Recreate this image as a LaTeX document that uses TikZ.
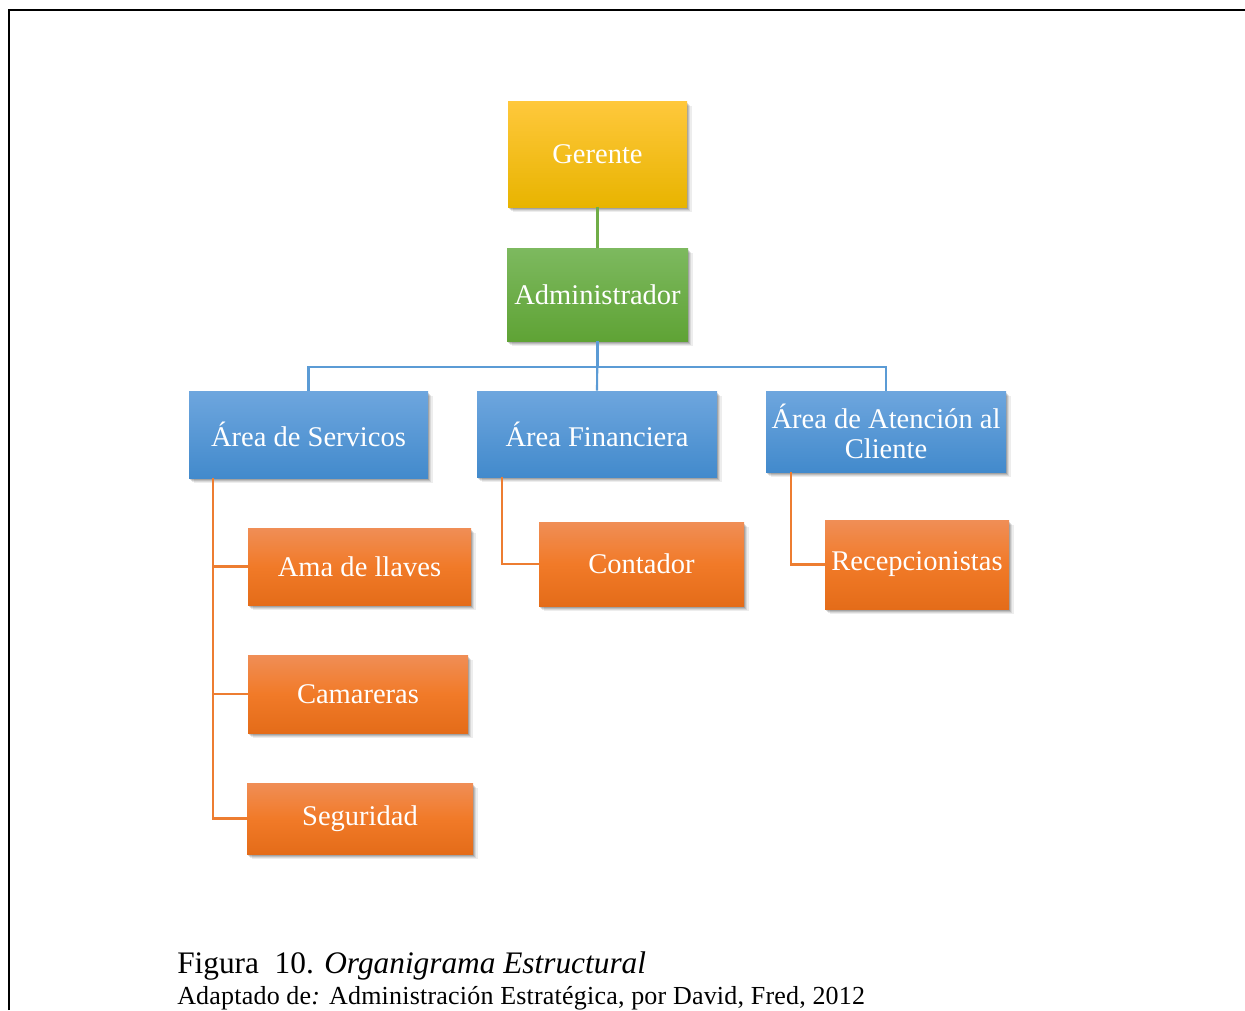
\documentclass[tikz,border=0pt]{standalone}
\usepackage{fontspec}
\setmainfont{Liberation Serif}
\usetikzlibrary{shadows}
\definecolor{goldT}{RGB}{255,200,60}
\definecolor{goldB}{RGB}{232,180,0}
\definecolor{greenT}{RGB}{125,185,95}
\definecolor{greenB}{RGB}{95,163,53}
\definecolor{blueT}{RGB}{110,166,222}
\definecolor{blueB}{RGB}{66,138,204}
\definecolor{oranT}{RGB}{240,142,86}
\definecolor{oranM}{RGB}{241,122,40}
\definecolor{oranB}{RGB}{228,108,25}
\definecolor{lnGreen}{RGB}{112,173,71}
\definecolor{lnBlue}{RGB}{91,155,213}
\definecolor{lnOrange}{RGB}{237,125,49}
\tikzset{
  box/.style={draw=none, text=white, inner sep=0pt, align=center,
    font=\fontsize{21.4}{23}\selectfont,
    drop shadow={shadow xshift=3.4pt, shadow yshift=-3.8pt, opacity=0.07, fill=black},
    drop shadow={shadow xshift=2.6pt, shadow yshift=-3.0pt, opacity=0.09, fill=black},
    drop shadow={shadow xshift=1.8pt, shadow yshift=-2.2pt, opacity=0.12, fill=black},
    drop shadow={shadow xshift=1.0pt, shadow yshift=-1.4pt, opacity=0.15, fill=black}},
  goldbox/.style={box, top color=goldT, bottom color=goldB},
  greenbox/.style={box, top color=greenT, bottom color=greenB},
  bluebox/.style={box, top color=blueT, bottom color=blueB},
  orbox/.style={box, top color=oranT, bottom color=oranB, middle color=oranM},
  sz/.style 2 args={minimum width=#1*0.75pt, minimum height=#2*0.75pt},
  lg/.style={draw=lnGreen, line width=1.6pt},
  lb/.style={draw=lnBlue, line width=1.6pt},
  lo/.style={draw=lnOrange, line width=1.6pt},
}
\begin{document}
\begin{tikzpicture}[x=0.75pt,y=-0.75pt]
\useasboundingbox (0,0) rectangle (1245,1010);
% frame
\draw[line width=1.5pt] (9,1010) -- (9,10) -- (1245,10);

\node[goldbox, sz={179}{106}] (ger) at (597.5,154) {Gerente};
\node[greenbox, sz={181}{93}] (adm) at (597.5,294.5) {Administrador};
\node[bluebox, sz={239}{87}] (serv) at (308.5,434.5) {Área de Servicos};
\node[bluebox, sz={240}{86}] (fin) at (597,434) {Área Financiera};
\node[bluebox, sz={240}{81}] (aten) at (886,431.5) {Área de Atención al\\[-1pt]Cliente};
\node[orbox, sz={223}{77}] (ama) at (359.5,566.5) {Ama de llaves};
\node[orbox, sz={220}{78}] (cam) at (358,694) {Camareras};
\node[orbox, sz={226}{71}] (seg) at (360,818.5) {Seguridad};
\node[orbox, sz={205}{84}] (con) at (641.5,564) {Contador};
\node[orbox, sz={184}{89}] (rec) at (917,564.5) {Recepcionistas};

\draw[lg] (ger.south) -- (adm.north);
\draw[lb] (adm.south) -- ++(0,26) -| (serv.north);
\draw[lb] (adm.south) -- (fin.north);
\draw[lb] (adm.south) -- ++(0,26) -| (aten.north);
\draw[lo] ([xshift=24*0.75pt]serv.south west) |- (ama.west);
\draw[lo] ([xshift=24*0.75pt]serv.south west) |- (cam.west);
\draw[lo] ([xshift=24*0.75pt]serv.south west) |- (seg.west);
\draw[lo] ([xshift=25*0.75pt]fin.south west) |- (con.west);
\draw[lo] ([xshift=25*0.75pt]aten.south west) |- (rec.west);

% caption
\node[anchor=base west, inner sep=0pt, font=\fontsize{23.5}{28}\selectfont] (cap1) at (177,973)
  {Figura \ 10. \textit{Organigrama Estructural}};
\node[anchor=base west, inner sep=0pt, font=\fontsize{19.5}{22}\selectfont\addfontfeature{LetterSpace=0.8}] (cap2) at (177,1004)
  {Adaptado de\textit{:} Administración Estratégica, por David, Fred, 2012};
\end{tikzpicture}
\end{document}
